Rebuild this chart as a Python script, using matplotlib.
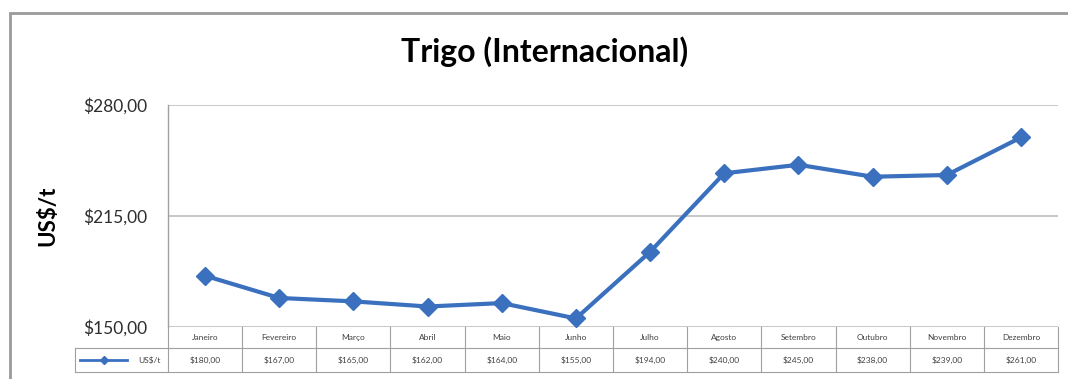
import matplotlib.pyplot as plt
from matplotlib.patches import Rectangle
from matplotlib.ticker import FuncFormatter

# monthly international wheat prices (US$/t)
months = ["Janeiro", "Fevereiro", "Março", "Abril", "Maio", "Junho",
          "Julho", "Agosto", "Setembro", "Outubro", "Novembro", "Dezembro"]
prices = [180, 167, 165, 162, 164, 155, 194, 240, 245, 238, 239, 261]
yticks = [150, 215, 280]
series_name = "US$/t"

blue = "#3A70BE"
grid_grey = "#BFBFBF"
table_grey = "#A0A0A0"

plt.rcParams["font.family"] = ["Lato", "DejaVu Sans"]


def money(v, pos=None):
    return f"${v:.2f}".replace(".", ",")


fig = plt.figure(figsize=(10.68, 3.79), dpi=100)
W, H = 1068, 379

# outer chart border
fig.patches.append(Rectangle((10 / W, -0.1), (1090 - 10) / W, 1.1 - 13 / H,
                             transform=fig.transFigure, fill=False,
                             edgecolor="#9A9A9A", lw=2))

ax_h = 222
ax = fig.add_axes([168 / W, 1 - 327 / H, 890 / W, ax_h / H])
x = list(range(len(months)))
ax.plot(x, prices, color=blue, lw=3, marker="D", markersize=9.5,
        markeredgecolor=blue, zorder=3)

ax.set_xlim(-0.5, len(months) - 0.5)
ax.set_ylim(yticks[0], yticks[-1])
ax.set_yticks(yticks)
ax.yaxis.set_major_formatter(FuncFormatter(money))
ax.set_xticks([])
ax.tick_params(axis="y", length=0, pad=15, labelsize=12.5, labelcolor="#2E2E2E")
ax.grid(axis="y", color=grid_grey, lw=1.2)
for side in ["top", "right", "bottom"]:
    ax.spines[side].set_visible(False)
ax.spines["left"].set_color(table_grey)
ax.spines["left"].set_linewidth(1.0)

ax.set_ylabel("US$/t", fontsize=16, fontweight="bold", labelpad=18)
fig.text(545 / W, 1 - 52 / H, "Trigo (Internacional)", ha="center",
         va="center", fontsize=23, fontweight="bold")

# data table under the plot: x in data units, y in axes fraction
tr = ax.get_xaxis_transform()
col_px = 890 / len(months)
x_left = -0.5
x_right = len(months) - 0.5
x_legend = x_left - (168 - 75) / col_px
y_top = 0
y_mid = -21 / ax_h
y_bot = -45 / ax_h

line_kw = dict(color=table_grey, lw=0.8, transform=tr, clip_on=False)
ax.plot([x_legend, x_right], [y_mid, y_mid], **line_kw)
ax.plot([x_legend, x_right], [y_bot, y_bot], **line_kw)
for j in range(len(months) + 1):
    ax.plot([j - 0.5, j - 0.5], [y_top, y_bot], **line_kw)
ax.plot([x_legend, x_legend], [y_mid, y_bot], **line_kw)

for j, m in enumerate(months):
    ax.text(j, (y_top + y_mid) / 2, m, transform=tr, ha="center", va="center",
            fontsize=6, color="#404040")
    ax.text(j, (y_mid + y_bot) / 2, money(prices[j]), transform=tr,
            ha="center", va="center", fontsize=6, color="#404040")

# legend key in the row label cell
ky = (y_mid + y_bot) / 2
ax.plot([x_legend + 0.07, x_legend + 0.7], [ky, ky], color=blue, lw=2,
        transform=tr, clip_on=False)
ax.plot([x_legend + 0.385], [ky], color=blue, marker="D", markersize=4,
        transform=tr, clip_on=False)
ax.text(x_left - 0.1, ky, series_name, transform=tr, ha="right", va="center",
        fontsize=6, color="#404040")

fig.savefig("out.png", dpi=100)
